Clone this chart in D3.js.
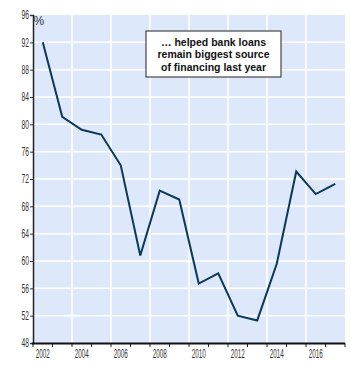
<!DOCTYPE html>
<html>
<head>
<meta charset="utf-8">
<script src="https://cdn.jsdelivr.net/npm/d3@7"></script>
<style>
  body { margin: 0; background: #fff; }
  svg text { font-family: "Liberation Sans", Arial, sans-serif; }
</style>
</head>
<body>
<svg id="chart" width="351" height="373"></svg>
<script>
var years = ['2002', '2003', '2004', '2005', '2006', '2007', '2008', '2009',
  '2010', '2011', '2012', '2013', '2014', '2015', '2016', '2017'];
var shares = [92, 81.1, 79.2, 78.5, 74, 60.8, 70.3, 69, 56.7, 58.2, 52, 51.3, 59.6, 73.1, 69.8, 71.3];
var yTicks = [48, 52, 56, 60, 64, 68, 72, 76, 80, 84, 88, 92, 96];
var xLabels = ['2002', '2004', '2006', '2008', '2010', '2012', '2014', '2016'];
var noteLines = ['\u2026 helped bank loans', 'remain biggest source', 'of financing last year'];

var svg = d3.select('#chart'),
  margin = { top: 15, left: 33, right: 6, bottom: 30 },
  w = svg.attr('width') - margin.left - margin.right,
  h = svg.attr('height') - margin.top - margin.bottom;

var x = d3.scaleBand().domain(years).range([0, w]),
  y = d3.scaleLinear().domain([48, 96]).range([h, 0]);

var g = svg.append('g')
  .attr('transform', 'translate(' + margin.left + ',' + margin.top + ')');

g.append('rect')
  .attr('width', w)
  .attr('height', h)
  .attr('fill', '#dde9fb');

// horizontal grid
g.selectAll('.hgrid')
  .data(yTicks.slice(1, -1))
  .enter()
  .append('line')
  .attr('x1', 0)
  .attr('x2', w)
  .attr('y1', d => y(d))
  .attr('y2', d => y(d))
  .attr('stroke', '#fff')
  .attr('stroke-width', 1.5);

// vertical grid at every other year boundary
g.selectAll('.vgrid')
  .data(years.filter((d, i) => i > 0 && i % 2 === 0))
  .enter()
  .append('line')
  .attr('x1', d => x(d))
  .attr('x2', d => x(d))
  .attr('y1', 0)
  .attr('y2', h)
  .attr('stroke', '#fff')
  .attr('stroke-width', 1.5);

var line = d3.line()
  .x((d, i) => x(years[i]) + x.bandwidth() / 2)
  .y(d => y(d));

g.append('path')
  .datum(shares)
  .attr('d', line)
  .attr('fill', 'none')
  .attr('stroke', '#0c3858')
  .attr('stroke-width', 2)
  .attr('stroke-linejoin', 'miter');

// y axis
var yAxis = g.append('g')
  .call(d3.axisLeft(y).tickValues(yTicks).tickSize(3).tickPadding(1));
yAxis.select('.domain').attr('stroke', '#222').attr('stroke-width', 1.5);
yAxis.selectAll('.tick line').attr('stroke', '#333');
yAxis.selectAll('.tick text')
  .attr('font-size', 12)
  .attr('fill', '#333')
  .attr('font-family', '"Liberation Sans", sans-serif')
  .attr('textLength', 7.5)
  .attr('lengthAdjust', 'spacingAndGlyphs');

// x axis ticks at each year boundary
var xg = g.append('g').attr('transform', 'translate(0,' + h + ')');
xg.selectAll('line.tk')
  .data(years.map(d => x(d)).concat([w]))
  .enter()
  .append('line')
  .attr('x1', d => d)
  .attr('x2', d => d)
  .attr('y1', 0)
  .attr('y2', 4)
  .attr('stroke', '#222')
  .attr('stroke-width', 1);
xg.append('line')
  .attr('x1', -1)
  .attr('x2', w)
  .attr('y1', 0.5)
  .attr('y2', 0.5)
  .attr('stroke', '#111')
  .attr('stroke-width', 2);
xg.selectAll('text')
  .data(xLabels)
  .enter()
  .append('text')
  .attr('x', d => x(d) + x.bandwidth() / 2)
  .attr('y', 15)
  .attr('text-anchor', 'middle')
  .attr('font-size', 12)
  .attr('fill', '#333')
  .attr('textLength', 14)
  .attr('lengthAdjust', 'spacingAndGlyphs')
  .text(d => d);

g.append('text')
  .attr('x', 0.5)
  .attr('y', 9.5)
  .attr('font-size', 12)
  .attr('fill', '#333')
  .text('%');

// annotation box
var note = g.append('g').attr('transform', 'translate(113,16)');
note.append('rect')
  .attr('width', 135)
  .attr('height', 46)
  .attr('fill', '#fff')
  .attr('stroke', '#222')
  .attr('stroke-width', 1);
note.selectAll('text')
  .data(noteLines)
  .enter()
  .append('text')
  .attr('x', 67.5)
  .attr('y', (d, i) => 14.5 + i * 12.7)
  .attr('text-anchor', 'middle')
  .attr('font-weight', 'bold')
  .attr('font-size', 10.5)
  .attr('fill', '#111')
  .text(d => d);
</script>
</body>
</html>
